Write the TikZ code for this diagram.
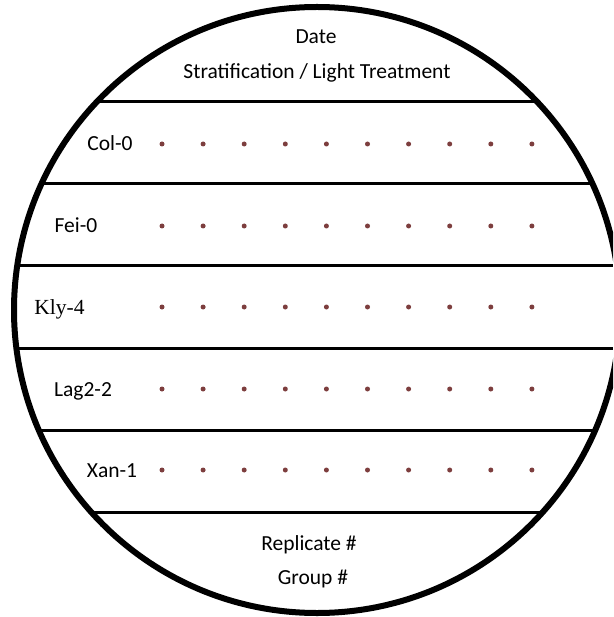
\documentclass[tikz,border=0pt]{standalone}
\usepackage{fontspec}
\setmainfont{Carlito}
\newfontfamily\timesfont{Liberation Serif}
\usepackage{tikz}
\tikzset{>=latex}
\definecolor{seedred}{RGB}{125,62,62}
\tikzset{
    plate/.style={line width=6},
    row/.style={line width=3},
    label/.style={inner sep=0, text height=14pt, text depth=0pt, font=\fontsize{21.5}{26}\selectfont}
}

\begin{document}
\begin{tikzpicture}[x=1pt, y=-1pt]
    \useasboundingbox(0, 0)rectangle(613, 617);
    \begin{scope}
        \clip(0, 0)rectangle(613, 617);
        % row separators inside the plate
        \begin{scope}
            \clip(317, 310)circle(303);
            \foreach \y in {102, 184, 265, 348, 430, 512}
                \draw[row](0, \y)--(613, \y);
        \end{scope}
        \draw[plate](317, 310)circle(303);
    \end{scope}

    \node[label](date) at (316, 37){Date};
    \node[label](treat) at (317, 72){Stratification / Light Treatment};

    \node[label](col) at (110, 144){Col-0};
    \node[label](fei) at (76, 226){Fei-0};
    \node[label, font=\timesfont\fontsize{21.5}{26}\selectfont](kly) at (59.5, 307){Kly-4};
    \node[label](lag) at (83, 389){Lag2-2};
    \node[label](xan) at (112, 470){Xan-1};

    % seeds
    \foreach \y in {144, 226, 307, 389, 470}
        \foreach \i in {0, ..., 9}
            \fill[seedred](162+41.1*\i, \y)circle(2.5);

    \node[label](rep) at (309, 543){Replicate \#};
    \node[label](group) at (313, 577){Group \#};
\end{tikzpicture}
\end{document}
